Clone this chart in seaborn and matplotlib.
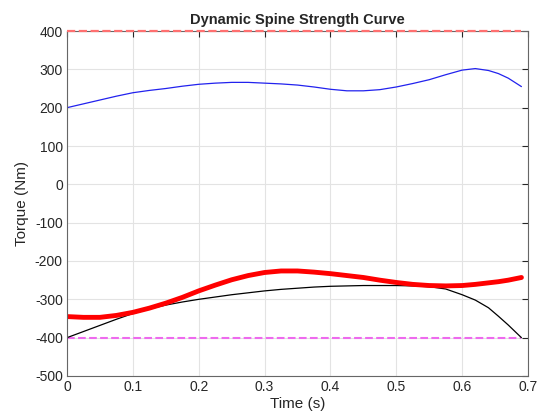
import pandas as pd
import matplotlib
matplotlib.use('Agg')
import matplotlib.pyplot as plt
import seaborn as sns

time_s = [0, 0.025, 0.05, 0.075, 0.1, 0.125, 0.15, 0.175, 0.2, 0.225,
          0.25, 0.275, 0.3, 0.325, 0.35, 0.375, 0.4, 0.425, 0.45, 0.475,
          0.5, 0.525, 0.55, 0.575, 0.6, 0.62, 0.64, 0.655, 0.67, 0.69]

upper_torque = [200, 210, 220, 230, 239, 245, 250, 256, 261, 264,
                266, 266, 264, 262, 259, 254, 248, 244, 244, 247,
                254, 263, 273, 286, 298, 302, 297, 289, 277, 255]

actual_torque = [-345, -347, -347, -342, -334, -323, -310, -295, -278, -263,
                 -249, -238, -230, -226, -226, -229, -233, -238, -243, -250,
                 -256, -261, -264, -265, -264, -261, -257, -254, -250, -243]

lower_torque = [-400, -384, -368, -352, -337, -325, -315, -307, -300, -294,
                -288, -283, -278, -274, -271, -268, -266, -265, -264, -264,
                -264, -265, -267, -273, -288, -302, -322, -344, -367, -400]

limit_time = [0, 0.69]
max_limit = [400, 400]
min_limit = [-400, -400]

sns.set_style("white")
plt.rcParams['font.family'] = ['Liberation Sans', 'DejaVu Sans']
plt.rcParams['axes.unicode_minus'] = False

fig = plt.figure(figsize=(5.43, 4.18), dpi=100)
ax = fig.add_axes([0.1234, 0.1005, 0.849, 0.8253])

sns.lineplot(x=limit_time, y=max_limit, ax=ax, color='#ff7070', linewidth=1.6,
             linestyle='--', dashes=(4, 2.5), clip_on=False, zorder=5)
sns.lineplot(x=limit_time, y=min_limit, ax=ax, color='#ee6aee', linewidth=1.5,
             linestyle='--', dashes=(4, 2.5))
sns.lineplot(x=time_s, y=upper_torque, ax=ax, color='#2222ee', linewidth=0.9)
sns.lineplot(x=time_s, y=lower_torque, ax=ax, color='black', linewidth=0.9)
sns.lineplot(x=time_s, y=actual_torque, ax=ax, color='#ff0000', linewidth=3.5)

ax.set_xlim(0, 0.7)
ax.set_ylim(-500, 400)
ax.set_xticks([0, 0.1, 0.2, 0.3, 0.4, 0.5, 0.6, 0.7])
ax.set_xticklabels(['0', '0.1', '0.2', '0.3', '0.4', '0.5', '0.6', '0.7'])
ax.set_yticks(range(-500, 401, 100))
ax.grid(True, color='#e3e3e3', linewidth=0.8)
ax.tick_params(direction='in', top=True, right=True, length=4,
               labelsize=10, colors='#262626', pad=3)
for s in ax.spines.values():
    s.set_color('#666666')
    s.set_linewidth(0.8)

ax.set_title('Dynamic Spine Strength Curve', fontsize=10.5, fontweight='bold', pad=5)
ax.set_xlabel('Time (s)', fontsize=11, color='#262626', labelpad=2)
ax.set_ylabel('Torque (Nm)', fontsize=11, color='#262626', labelpad=4)

fig.savefig('out.png', dpi=100)
